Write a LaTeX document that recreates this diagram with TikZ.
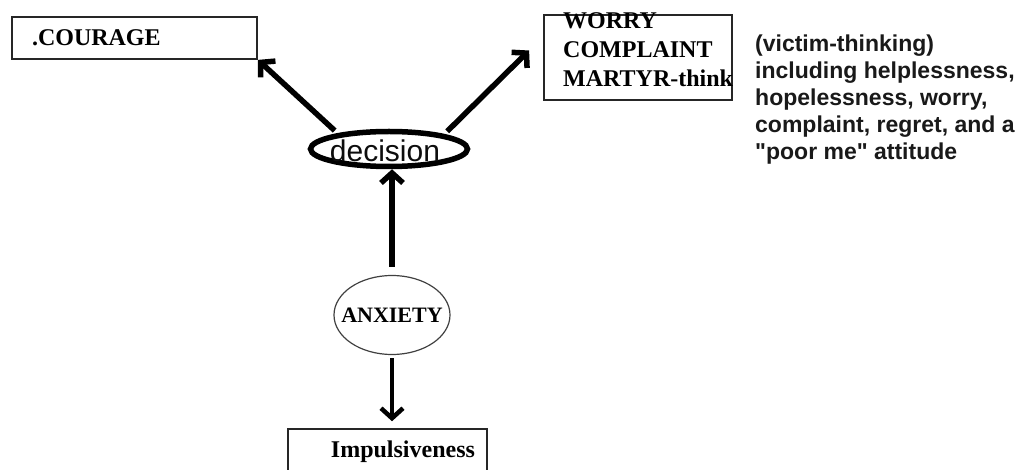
\documentclass[tikz,border=0pt]{standalone}
\usepackage{fontspec}
\setmainfont{Liberation Serif}
\newfontfamily\arialfont{Liberation Sans}
\usepackage{tikz}
\usetikzlibrary{shapes, arrows.meta, positioning, calc}

\begin{document}
\begin{tikzpicture}[x=1pt, y=-1pt,
  box/.style={draw=black!85, line width=1.8pt, rectangle, inner ysep=0pt},
  bigarrow/.style={line width=5.5pt, -{Straight Barb[length=10pt,width=22pt]}},
  choicefont/.style={font=\bfseries\fontsize{24}{29}\selectfont}]
  \useasboundingbox (0,0) rectangle (1021,470);

  % Outcome boxes
  \node[box, choicefont, minimum width=245pt, minimum height=42pt,
        text width=205pt, inner xsep=20pt, align=left] (courage) at (134.5,38) {.COURAGE};
  \node[box, minimum width=188pt, minimum height=85pt] (worry) at (638,57.5) {};
  \node[choicefont, anchor=north west, inner sep=0pt, align=left] (worrytext) at (563,12)
    {WORRY\\COMPLAINT\\MARTYR-think};

  % Side note
  \node[font=\arialfont\bfseries\fontsize{23}{27}\selectfont, text=black!90,
        anchor=north west, inner sep=0pt, align=left] (victim) at (755,35)
    {(victim-thinking)\\including helplessness,\\hopelessness, worry,\\complaint, regret, and a\\"poor me" attitude};

  % Decision
  \node[draw, ellipse, line width=5.5pt, minimum width=157pt, minimum height=35pt] (decision) at (389,149) {};
  \node[font=\arialfont\fontsize{30}{36}\selectfont, text=black!95, anchor=base, inner sep=0pt]
    (decisionlabel) at (385,162) {decision};

  % Anxiety
  \node[draw=black!75, ellipse, line width=1.2pt, minimum width=116pt, minimum height=79pt] (anxiety) at (392,315) {};
  \node[font=\bfseries\fontsize{22}{26}\selectfont, inner sep=0pt] (anxietylabel) at (anxiety) {ANXIETY};

  % Bottom box
  \node[box, line width=1.5pt, choicefont, minimum width=199pt, minimum height=46pt,
        text width=175pt, inner xsep=12pt, align=right] (impulse) at (387.5,452) {Impulsiveness};

  % Arrows
  \draw[bigarrow, shorten <=4pt] (decision.163) -- (courage.south east);
  \draw[bigarrow, shorten <=4pt] (decision.15) -- ($(worry.west)+(-14,-7)$);
  \draw[bigarrow, shorten <=8pt] (anxiety.north) -- (anxiety.north |- decision.south);
  \draw[bigarrow, line width=4.5pt, shorten <=3pt, shorten >=7pt] (anxiety.south) -- (anxiety.south |- impulse.north);
\end{tikzpicture}
\end{document}
